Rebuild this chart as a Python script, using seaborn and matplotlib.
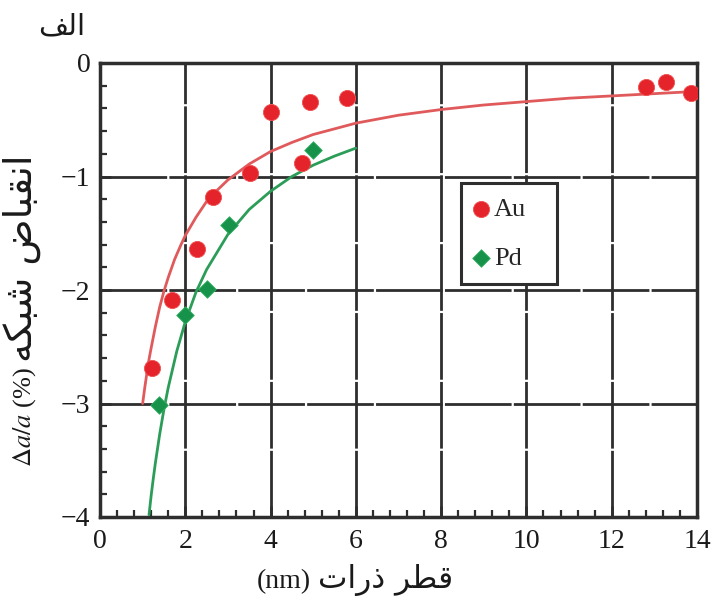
import matplotlib
matplotlib.use("Agg")
import matplotlib.pyplot as plt
from matplotlib.ticker import MultipleLocator
import seaborn as sns

# Measured lattice contraction versus particle diameter
au_d = [1.21, 1.70, 2.28, 2.66, 3.52, 4.00, 4.74, 4.92, 5.79, 12.80, 13.27, 13.85]
au_v = [-2.69, -2.09, -1.64, -1.18, -0.97, -0.43, -0.88, -0.34, -0.31, -0.21, -0.17, -0.26]
pd_d = [1.39, 1.99, 2.52, 3.03, 4.99]
pd_v = [-3.01, -2.22, -1.99, -1.43, -0.77]

# Fitted trend curves
au_fit_d = [1.0, 1.05, 1.1, 1.15, 1.2, 1.3, 1.4, 1.5, 1.6, 1.75, 1.9, 2.0, 2.25, 2.5, 2.75,
            3.0, 3.5, 4.0, 4.5, 5.0, 6.0, 7.0, 8.0, 9.0, 10.0, 11.0, 12.0, 13.0, 14.0]
au_fit_v = [-3.00, -2.86, -2.73, -2.61, -2.51, -2.32, -2.15, -2.01, -1.89, -1.73, -1.60, -1.52,
            -1.36, -1.22, -1.12, -1.03, -0.89, -0.78, -0.70, -0.63, -0.53, -0.46, -0.41, -0.37,
            -0.34, -0.31, -0.29, -0.27, -0.25]
pd_fit_d = [1.15, 1.2, 1.25, 1.3, 1.4, 1.5, 1.6, 1.8, 2.0, 2.25, 2.5, 3.0, 3.5, 4.0, 4.5,
            5.0, 5.5, 6.0]
pd_fit_v = [-3.98, -3.81, -3.66, -3.52, -3.27, -3.05, -2.86, -2.54, -2.28, -2.02, -1.82,
            -1.51, -1.29, -1.13, -1.00, -0.90, -0.82, -0.75]

x_ticks = [0, 2, 4, 6, 8, 10, 12, 14]
y_ticks = [-4, -3, -2, -1, 0]

# Arabic strings in visual (left-to-right) order using presentation forms
title_txt = "\uFED2\uFEDF\uFE8D"                                   # الف
xlabel_ar = "\uFE95\uFE8D\uFEAD\uFEAB \uFEAE\uFEC4\uFED7"          # قطر ذرات
xlabel_lat = "(nm)"
ylabel_ar = "\uFEEA\uFB91\uFE92\uFEB7 \uFEBD\uFE8E\uFE92\uFED8\uFEE7\uFE8D"  # انقباض شبکه
ylabel_lat = r"$\Delta a/a$ (%)"

sns.set_style("white")
plt.rcParams["font.family"] = ["Liberation Serif", "DejaVu Sans"]
plt.rcParams["mathtext.fontset"] = "stix"

RED = "#e4232b"
RED_LINE = "#e05a5c"
GREEN = "#17924a"
GREEN_LINE = "#2b9d58"
DARK = "#2e2e2e"
TXT = "#1a1a1a"

W, H = 714, 600
fig = plt.figure(figsize=(W / 100, H / 100), dpi=100)
ax = fig.add_axes([100 / W, 1 - 517 / H, 597 / W, 454 / H])

ax.set_xlim(0, 14)
ax.set_ylim(-4, 0)
ax.set_xticks(x_ticks)
ax.set_yticks(y_ticks)
ax.xaxis.set_minor_locator(MultipleLocator(0.4))
ax.yaxis.set_minor_locator(MultipleLocator(0.2))
ax.set_axisbelow(True)
ax.grid(True, which="major", color=DARK, lw=2.0, ls=(0, (24, 0.8)))

sns.lineplot(x=au_fit_d, y=au_fit_v, ax=ax, color=RED_LINE, lw=2.0, zorder=3, sort=False)
sns.lineplot(x=pd_fit_d, y=pd_fit_v, ax=ax, color=GREEN_LINE, lw=2.0, zorder=3, sort=False)
sns.scatterplot(x=au_d, y=au_v, ax=ax, marker="o", s=135, color=RED, edgecolor="#f05050",
                linewidth=0.6, label="Au", zorder=4)
sns.scatterplot(x=pd_d, y=pd_v, ax=ax, marker="D", s=80, color=GREEN, edgecolor="#30b060",
                linewidth=0.6, label="Pd", zorder=4)

for sp in ax.spines.values():
    sp.set_color(DARK)
    sp.set_linewidth(2.5)

ax.tick_params(which="both", direction="in", top=False, right=False, bottom=True, left=True,
               colors=DARK, labelcolor=TXT, labelsize=20)
ax.tick_params(axis="x", which="both", pad=8.5)
ax.tick_params(axis="y", which="both", pad=7)
ax.tick_params(which="major", length=8, width=2)
ax.tick_params(which="minor", length=5, width=1.6)
ax.set_xlabel("")
ax.set_ylabel("")

leg = ax.legend(loc="upper left", bbox_to_anchor=(361 / 597, 334 / 454 - 0.25, 96 / 597, 0.25),
                mode="expand", frameon=True, fancybox=False, edgecolor=DARK, framealpha=1,
                fontsize=19, labelspacing=0.95, handletextpad=0.3, borderpad=0.55,
                handlelength=0.4, borderaxespad=0)
leg.get_frame().set_linewidth(2.2)

# X-axis label: Arabic words on the right, Latin unit placed to their left
t_xar = fig.text(453 / W, 1 - 588 / H, xlabel_ar, ha="right", va="baseline", fontsize=22.5,
                 family="DejaVu Sans", color=TXT)

# Y-axis label built from a Latin part and an Arabic part stacked upward
t_lat = fig.text(31 / W, 1 - 467 / H, ylabel_lat, rotation=90, rotation_mode="anchor",
                 ha="left", va="baseline", fontsize=19, color=TXT)
fig.canvas.draw()
bx = t_xar.get_window_extent()
fig.text((bx.x0 - 7) / W, 1 - 588 / H, xlabel_lat, ha="right", va="baseline", fontsize=20,
         color=TXT)
bb = t_lat.get_window_extent()
fig.text(32 / W, (bb.y1 + 5) / fig.bbox.height, ylabel_ar, rotation=90,
         rotation_mode="anchor", ha="left", va="baseline", fontsize=27.5,
         family="DejaVu Sans", color=TXT)

fig.text(62 / W, 1 - 26 / H, title_txt, ha="center", va="center", fontsize=21,
         family="DejaVu Sans", color=TXT)

fig.savefig("out.png", dpi=100)
